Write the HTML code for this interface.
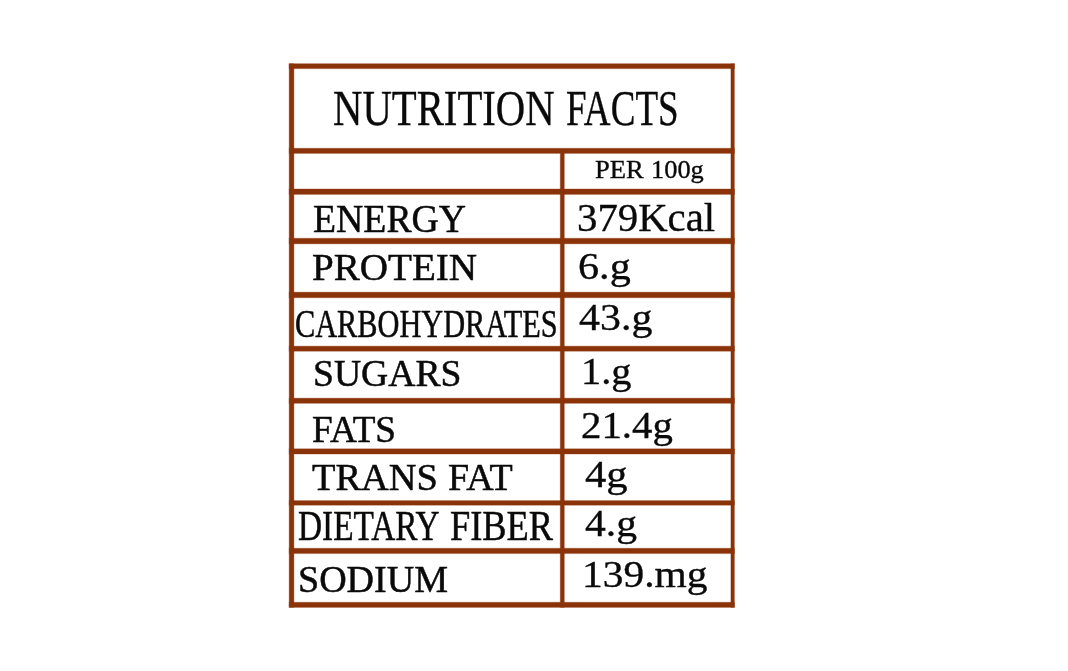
<!DOCTYPE html><html><head><meta charset="utf-8"><title>Nutrition Facts</title><style>
html,body{margin:0;padding:0;background:#fff;}
body{width:1068px;height:671px;position:relative;overflow:hidden;font-family:"Liberation Serif",serif;color:#0a0a0a;}
.l{position:absolute;background:#8a3308;}
.t{position:absolute;white-space:nowrap;line-height:1;transform-origin:0 0;}
</style></head><body>
<svg id="grid" width="1068" height="671" viewBox="0 0 1068 671" style="position:absolute;left:0;top:0"><g fill="#8a3308">
<rect x="288.6" y="63.1" width="446.4" height="6.1" fill-opacity=".28"/>
<rect x="289.2" y="63.7" width="445.2" height="4.9"/>
<rect x="288.6" y="147.7" width="446.4" height="6.3" fill-opacity=".28"/>
<rect x="289.2" y="148.3" width="445.2" height="5.1"/>
<rect x="288.6" y="188.4" width="446.4" height="6.6" fill-opacity=".28"/>
<rect x="289.2" y="189.0" width="445.2" height="5.4"/>
<rect x="288.6" y="237.7" width="446.4" height="6.7" fill-opacity=".28"/>
<rect x="289.2" y="238.3" width="445.2" height="5.5"/>
<rect x="288.6" y="291.6" width="446.4" height="6.7" fill-opacity=".28"/>
<rect x="289.2" y="292.2" width="445.2" height="5.5"/>
<rect x="288.6" y="345.6" width="446.4" height="6.2" fill-opacity=".28"/>
<rect x="289.2" y="346.2" width="445.2" height="5.0"/>
<rect x="288.6" y="397.6" width="446.4" height="6.3" fill-opacity=".28"/>
<rect x="289.2" y="398.2" width="445.2" height="5.1"/>
<rect x="288.6" y="448.2" width="446.4" height="6.4" fill-opacity=".28"/>
<rect x="289.2" y="448.8" width="445.2" height="5.2"/>
<rect x="288.6" y="500.0" width="446.4" height="5.8" fill-opacity=".28"/>
<rect x="289.2" y="500.6" width="445.2" height="4.6"/>
<rect x="288.6" y="547.7" width="446.4" height="6.4" fill-opacity=".28"/>
<rect x="289.2" y="548.3" width="445.2" height="5.2"/>
<rect x="288.6" y="601.7" width="446.4" height="6.3" fill-opacity=".28"/>
<rect x="289.2" y="602.3" width="445.2" height="5.1"/>
<rect x="288.6" y="63.7" width="5.9" height="543.7" fill-opacity=".28"/>
<rect x="289.2" y="63.7" width="4.7" height="543.7"/>
<rect x="730.3" y="63.7" width="4.7" height="543.7" fill-opacity=".28"/>
<rect x="730.9" y="63.7" width="3.5" height="543.7"/>
<rect x="559.7" y="149.3" width="5.2" height="458.1" fill-opacity=".28"/>
<rect x="560.3" y="149.3" width="4.0" height="458.1"/>
</g></svg>
<div class="t" id="t1" style="left:332.68px;top:81.62px;font-size:51.71px;transform:scaleX(0.7876);-webkit-text-stroke:0.35px #0a0a0a;">NUTRITION</div>
<div class="t" id="t2" style="left:565.59px;top:81.62px;font-size:51.71px;transform:scaleX(0.7172);-webkit-text-stroke:0.35px #0a0a0a;">FACTS</div>
<div class="t" id="p1" style="left:595.40px;top:156.56px;font-size:25.80px;transform:scaleX(1.0307);-webkit-text-stroke:0.35px #0a0a0a;">PER</div>
<div class="t" id="p2" style="left:650.86px;top:156.56px;font-size:25.80px;transform:scaleX(1.0226);-webkit-text-stroke:0.35px #0a0a0a;">100g</div>
<div class="t" id="l1" style="left:312.56px;top:198.94px;font-size:39.24px;transform:scaleX(0.9622);-webkit-text-stroke:0.5px #0a0a0a;">ENERGY</div>
<div class="t" id="l2" style="left:311.72px;top:247.99px;font-size:38.93px;transform:scaleX(1.0047);-webkit-text-stroke:0.5px #0a0a0a;">PROTEIN</div>
<div class="t" id="l3" style="left:294.89px;top:303.54px;font-size:39.24px;transform:scaleX(0.7725);-webkit-text-stroke:0.5px #0a0a0a;">CARBOHYDRATES</div>
<div class="t" id="l4" style="left:312.95px;top:355.27px;font-size:37.40px;transform:scaleX(1.0064);-webkit-text-stroke:0.5px #0a0a0a;">SUGARS</div>
<div class="t" id="l5" style="left:311.77px;top:410.64px;font-size:37.56px;transform:scaleX(0.9904);-webkit-text-stroke:0.5px #0a0a0a;">FATS</div>
<div class="t" id="l6a" style="left:312.22px;top:458.61px;font-size:37.71px;transform:scaleX(1.0177);-webkit-text-stroke:0.5px #0a0a0a;">TRANS</div>
<div class="t" id="l6b" style="left:447.95px;top:458.61px;font-size:37.71px;transform:scaleX(1.0082);-webkit-text-stroke:0.5px #0a0a0a;">FAT</div>
<div class="t" id="l7a" style="left:298.07px;top:505.19px;font-size:42.29px;transform:scaleX(0.7878);-webkit-text-stroke:0.5px #0a0a0a;">DIETARY</div>
<div class="t" id="l7b" style="left:449.79px;top:505.19px;font-size:42.29px;transform:scaleX(0.8600);-webkit-text-stroke:0.5px #0a0a0a;">FIBER</div>
<div class="t" id="l8" style="left:297.83px;top:559.86px;font-size:38.02px;transform:scaleX(1.0003);-webkit-text-stroke:0.5px #0a0a0a;">SODIUM</div>
<div class="t" id="v1" style="left:577.16px;top:198.40px;font-size:40.00px;transform:scaleX(1.0195);-webkit-text-stroke:0.35px #0a0a0a;">379Kcal</div>
<div class="t" id="v2" style="left:578.41px;top:246.79px;font-size:38.93px;transform:scaleX(1.0836);-webkit-text-stroke:0.35px #0a0a0a;">6.g</div>
<div class="t" id="v3" style="left:579.26px;top:297.82px;font-size:38.78px;transform:scaleX(1.0813);-webkit-text-stroke:0.35px #0a0a0a;">43.g</div>
<div class="t" id="v4" style="left:581.47px;top:351.70px;font-size:38.32px;transform:scaleX(1.0529);-webkit-text-stroke:0.35px #0a0a0a;">1.g</div>
<div class="t" id="v5" style="left:580.66px;top:406.39px;font-size:38.93px;transform:scaleX(1.0486);-webkit-text-stroke:0.35px #0a0a0a;">21.4g</div>
<div class="t" id="v6" style="left:584.55px;top:455.43px;font-size:38.17px;transform:scaleX(1.1162);-webkit-text-stroke:0.35px #0a0a0a;">4g</div>
<div class="t" id="v7" style="left:584.57px;top:503.93px;font-size:38.17px;transform:scaleX(1.0913);-webkit-text-stroke:0.35px #0a0a0a;">4.g</div>
<div class="t" id="v8" style="left:582.18px;top:554.60px;font-size:38.32px;transform:scaleX(1.0822);-webkit-text-stroke:0.35px #0a0a0a;">139.mg</div>
</body></html>
